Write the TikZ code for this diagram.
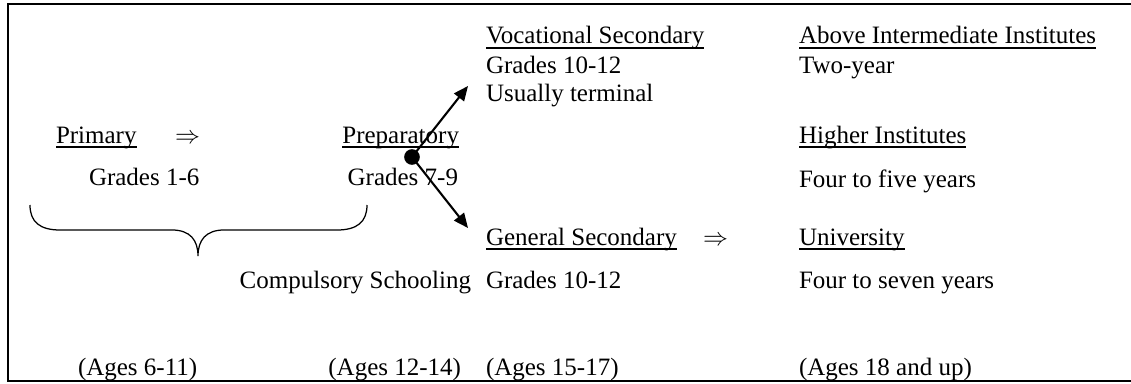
\documentclass[tikz,border=0pt]{standalone}
\usepackage{fontspec}
\setmainfont{Liberation Serif}
\usetikzlibrary{arrows.meta}
\newcommand{\myul}[1]{\setbox0\hbox{#1}\rlap{\rule[-2.4pt]{\wd0}{0.75pt}}\box0}
\begin{document}
\begin{tikzpicture}[x=0.48pt,y=-0.48pt,
  txt/.style={inner sep=0pt,outer sep=0pt,anchor=base west,font=\fontsize{12}{14}\selectfont},
  txtr/.style={txt,anchor=base east},
  frame/.style={line width=1pt},
  conn/.style={line width=1pt,-{Triangle[length=7pt,width=6pt]}},
  bracepath/.style={line width=0.6pt}]
\useasboundingbox (0,0) rectangle (1131,384);
\draw[frame] (1131,4) -- (8,4) -- (8,381) -- (1131,381);

% column 1
\node[txt] (prim) at (56,143) {\myul{Primary}};
\node[txt] (arr1) at (175,143) {$\Rightarrow$};
\node[txt] (g16) at (89,185) {Grades 1-6};
\node[txt] (a611) at (78,375) {(Ages 6-11)};

% column 2
\node[txtr] (prep) at (459,143) {\myul{Preparatory}};
\node[txtr] (g79) at (458,185) {Grades 7-9};
\node[txtr] (comp) at (471,288) {Compulsory Schooling};
\node[txtr] (a1214) at (461,375) {(Ages 12-14)};

% column 3
\node[txt] (voc) at (486,44) {\myul{Vocational Secondary}};
\node[txt] (vg) at (486,73) {Grades 10-12};
\node[txt] (vt) at (486,101) {Usually terminal};
\node[txt] (gen) at (486,245) {\myul{General Secondary}};
\node[txt] (arr2) at (703,245) {$\Rightarrow$};
\node[txt] (gg) at (486,288) {Grades 10-12};
\node[txt] (a1517) at (486,375) {(Ages 15-17)};

% column 4
\node[txt] (aii) at (799,44) {\myul{Above Intermediate Institutes}};
\node[txt] (two) at (799,73) {Two-year};
\node[txt] (hi) at (799,143) {\myul{Higher Institutes}};
\node[txt] (ftf) at (799,187) {Four to five years};
\node[txt] (uni) at (799,245) {\myul{University}};
\node[txt] (fts) at (799,288) {Four to seven years};
\node[txt] (a18) at (799,375) {(Ages 18 and up)};

% branching
\node[circle,fill=black,inner sep=0pt,minimum size=7.5pt] (dot) at (412,157) {};
\coordinate (uptip) at (468,86);
\coordinate (dntip) at (468,228);
\draw[conn] (dot.center) -- (uptip);
\draw[conn] (dot.center) -- (dntip);

% brace
\draw[bracepath] (30,205) .. controls (30,222) and (40,230) .. (60,230) -- (172,230)
  .. controls (190,230) and (198,240) .. (198,256)
  .. controls (198,240) and (206,230) .. (224,230) -- (337,230)
  .. controls (357,230) and (367,222) .. (367,205);
\end{tikzpicture}
\end{document}
